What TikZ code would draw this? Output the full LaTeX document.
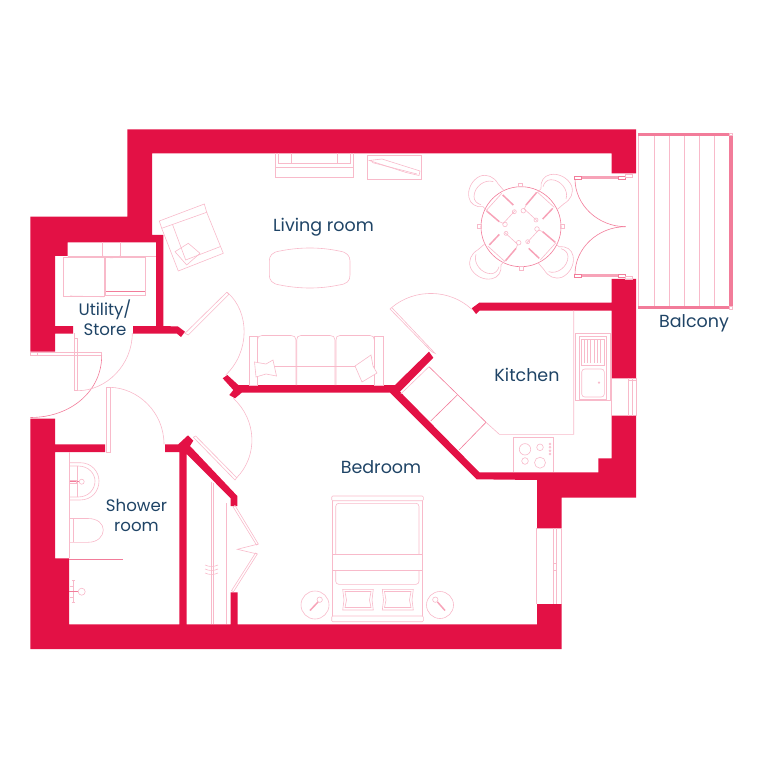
\documentclass[tikz,border=0pt]{standalone}
\usepackage{fontspec}
\setmainfont{Poppins}
\definecolor{wallred}{HTML}{E31145}
\definecolor{fitpink}{HTML}{F8BACA}
\definecolor{fitmid}{HTML}{F7A3B8}
\definecolor{fitred}{HTML}{F27C9A}
\definecolor{labelblue}{HTML}{1F4466}
\tikzset{
  wall/.style={fill=wallred,draw=none},
  fit/.style={draw=fitpink,line width=0.6pt},
  fitdark/.style={draw=fitred,line width=0.6pt},
  band/.style={fill=fitred,draw=none},
  roomlabel/.style={text=labelblue,font=\fontsize{17.5}{20}\selectfont,align=center,inner sep=0pt,anchor=base},
  tightlabel/.style={roomlabel,font=\fontsize{16.6}{19.8}\selectfont}
}
\newcommand{\diningchair}[1]{
\begin{scope}[shift={(521,226.7)},rotate=#1]
\draw[draw=fitmid,line width=1.5pt] (-18.3,-31.7)--(-7.7,-21.7) ;
\draw[draw=fitmid,line width=1.5pt] (-34.3,-15.7)--(-21.7,-5) ;
\draw[fit] (-19.3,-33.3)--(-34.3,-16.7) ;
\draw[fit] (-17.7,-3.3)--(-6,-16) ;
\draw[fit] (-21.7,-5)--(-17.7,-3.3) ;
\draw[fit] (-16,-2.3) circle (2.3) ;
\draw[fit] (-6.7,-15) circle (2) ;
\draw[fit] (-23,-43) .. controls (-27,-50) and (-34,-53) .. (-41,-50.5) .. controls (-49,-47) and (-54,-37) .. (-52,-29) .. controls (-51,-23) and (-45,-19) .. (-38,-20) ;
\draw[fit] (-27.7,-45) .. controls (-36,-48) and (-47,-40) .. (-47,-30) .. controls (-47,-26) and (-44,-23) .. (-40,-22) ;
\draw[fit] (-23,-43)--(-17,-36) ;
\draw[fit] (-38,-20)--(-33,-15) ;
\end{scope}
}
\begin{document}
\begin{tikzpicture}[x=1pt,y=-1pt]
\useasboundingbox (0,0) rectangle (768,767) ;

\fill[wall] (127.3,129.3)--(636,129.3)--(636,173.3)--(611.7,173.3)--(611.7,153.3)--(152,153.3)--(152,235)--(163.3,235)--(163.3,326)--(178,326.5)--(185,331.7)--(181,337)--(177,333.7)--(133,333.7)--(133,326)--(156,326)--(156,242.3)--(67.7,242.3)--(67.7,256)--(55,256)--(55,326)--(73,326)--(73,333.7)--(55,333.7)--(55,351.7)--(30.3,351.7)--(30.3,216.7)--(127.3,216.7)--cycle ;
\fill[wall] (30.3,418.7)--(55,418.7)--(55,444.3)--(105,444.3)--(105,452)--(55,452)--(55,558.3)--(69,558.3)--(69,624.3)--(179.3,624.3)--(179.3,452)--(165,452)--(165,444.3)--(178.3,444.3)--(188,435.3)--(193.3,440.7)--(190,446)--(237.3,496)--(237.3,506)--(230.7,506)--(230.7,498.3)--(186.7,454)--(186.7,624.3)--(230.7,624.3)--(230.7,592.3)--(237.7,592.3)--(237.7,624.3)--(537,624.3)--(537,604)--(561.7,604)--(561.7,649)--(30.3,649)--cycle ;
\fill[wall] (241.7,392.7)--(390,392.7)--(476.7,479.3)--(537,480)--(537,528.3)--(561.7,528.3)--(561.7,497.7)--(636,497.7)--(636,415.7)--(611.7,415.7)--(611.7,458.3)--(598.3,458.3)--(598.3,472.3)--(479.3,472.3)--(400,391.7)--(433.3,357.7)--(429,351.7)--(395,385)--(238.3,385)--(227.3,375)--(222.7,378.3)--(233.3,390)--(229.3,395)--(235,398.3)--cycle ;
\fill[wall] (611.7,279)--(636,279)--(636,378.3)--(611.7,378.3)--(611.7,310.7)--(479.3,310.7)--(476,314)--(471.7,308.3)--(479.3,302.7)--(611.7,302.7)--cycle ;

\fill[band] (638.3,133.3) rectangle (730,136) ;
\fill[band] (729.3,136) rectangle (732.7,307) ;
\fill[band] (638.3,306) rectangle (730,309) ;
\draw[fit] (638.3,136)--(638.3,306) ;
\draw[fit] (654,136)--(654,306) ;
\draw[fit] (669.3,136)--(669.3,306) ;
\draw[fit] (684.3,136)--(684.3,306) ;
\draw[fit] (699.3,136)--(699.3,306) ;
\draw[fit] (714.3,136)--(714.3,306) ;
\draw[fit] (729.7,133) rectangle (732.5,135.5) ;
\draw[fit] (729.7,306.5) rectangle (732.5,309) ;

\fill[fitmid] (581,176) rectangle (618.3,179) ;
\fill[fitmid] (581,274.3) rectangle (618.3,277.3) ;
\draw[fitdark] (574.3,176) rectangle (581,179) ;
\draw[fitdark] (618.3,176) rectangle (625.7,179) ;
\draw[fit] (625.7,174) rectangle (632.3,177) ;
\draw[fitdark] (574.3,274.3) rectangle (581,277.3) ;
\draw[fitdark] (618.3,274.3) rectangle (625.7,277.3) ;
\draw[fit] (625.7,276.3) rectangle (632.3,279) ;
\draw[fitdark] (575,179) .. controls (575,205) and (598,226.7) .. (625.7,226.7) ;
\draw[fitdark] (575,274.3) .. controls (575,248) and (598,226.7) .. (625.7,226.7) ;

\draw[fitdark] (521,226.7) circle (40) ;
\draw[fit] (518.3,183) rectangle (522.3,186.6) ;
\draw[fit] (477.3,224.7) rectangle (481,228.7) ;
\draw[fit] (560.7,224) rectangle (564.7,228) ;
\draw[fit] (519.3,266.7) rectangle (523.3,270.3) ;
\diningchair{0}
\diningchair{90}
\diningchair{180}
\diningchair{270}

\draw[fit] (159.3,221)--(204.3,204)--(206.7,212.3)--(161.7,228.3)--cycle ;
\draw[fit] (161.7,228.3)--(178.3,271)--(223.3,253.3)--(206.7,212.3) ;
\draw[fit] (172.7,225)--(185.7,260)--(220,246.7) ;
\draw[fit] (175,251.7)--(188.3,243.3)--(200,253.3)--(186.7,265)--cycle ;

\draw[fit] (275,153.3)--(275,177.3)--(353.3,177.3)--(353.3,153.3) ;
\draw[fit] (275,167)--(353.3,167) ;
\draw[fit] (278.3,153.3)--(278.3,163.3)--(350.7,163.3)--(350.7,153.3) ;
\draw[fit] (291.7,153.3)--(291.7,163.3) ;
\draw[fit] (337.3,153.3)--(337.3,163.3) ;
\draw[fit] (367.3,155.7) rectangle (421.7,179.3) ;
\draw[fit] (369.3,160.5)--(382,159)--(420,171)--(419,175.5)--(406,172.5)--cycle ;
\draw[fit] (372,162.5)--(417,174) ;

\draw[fit] (280,251) .. controls (300,247) and (320,247) .. (339,251) .. controls (347,252) and (350,256) .. (350,261)--(350,275) .. controls (350,281) and (347,284) .. (339,285) .. controls (320,289) and (300,289) .. (280,285) .. controls (272,284) and (269.3,280) .. (269.3,275)--(269.3,261) .. controls (269.3,256) and (272,252) .. (280,251)--cycle ;

\draw[fit] (249,336) rectangle (257.3,385) ;
\draw[fit] (374.3,336) rectangle (383.3,385) ;
\draw[fit] (257.3,385)--(257.3,340) .. controls (257.3,337) and (259,335.5) .. (262,335.5)--(291,335.5) .. controls (294,335.5) and (296,337) .. (296,340)--(296,385) ;
\draw[fit] (296.7,385)--(296.7,340) .. controls (296.7,337) and (298,335.5) .. (301,335.5)--(330,335.5) .. controls (333,335.5) and (335,337) .. (335,340)--(335,385) ;
\draw[fit] (336,385)--(336,340) .. controls (336,337) and (337,335.5) .. (340,335.5)--(370,335.5) .. controls (373,335.5) and (374.3,337) .. (374.3,340) ;
\draw[fit] (257.3,366.7)--(374.3,366.7) ;
\fill[white] (254.5,362)--(266,364)--(273,360)--(276.5,376)--(266,374)--(256,377)--cycle ;
\draw[fit] (254.5,362)--(266,364)--(273,360)--(276.5,376)--(266,374)--(256,377)--cycle ;
\fill[white] (355,366)--(371,355)--(373,366)--(377,373)--(362,382)--cycle ;
\draw[fit] (355,366)--(371,355)--(373,366)--(377,373)--(362,382)--cycle ;

\draw[fit] (67.7,256)--(156,256) ;
\draw[fit] (102.7,242.3)--(102.7,256) ;
\draw[fit] (120,242.3)--(120,256) ;
\draw[fit] (102.7,256) .. controls (107,258.5) and (116,258.5) .. (120,256) ;
\draw[fit] (63.3,257.3) rectangle (104,296) ;
\draw[fit] (105.3,257.3) rectangle (145,295.7) ;
\draw[fitdark] (106,291.7)--(144.5,291.7) ;
\draw[fit] (70,296)--(104,296.8) ;

\draw[fit] (429,366.7)--(400.7,394) ;
\draw[fitdark] (429,366.7)--(486,422.3) ;
\draw[fit] (486,422.3)--(499.3,434.3)--(573.7,434.3)--(573.7,310.7) ;
\draw[fitdark] (457.3,395)--(430.7,421) ;
\draw[fitdark] (486,422.3)--(459,450) ;
\draw[fit] (575.7,333.3) rectangle (610,400) ;
\draw[fit] (579,336.7) rectangle (606.7,399) ;
\draw[fit] (581,339)--(604.5,339)--(604.5,365)--(581,365)--cycle ;
\draw[fit] (584,339)--(584,363) ;
\draw[fit] (587.3,339)--(587.3,363) ;
\draw[fit] (590.7,339)--(590.7,363) ;
\draw[fit] (594,339)--(594,363) ;
\draw[fit] (597.3,339)--(597.3,363) ;
\draw[fit] (600.7,339)--(600.7,363) ;
\draw[fit,rounded corners=3pt] (581.7,369) rectangle (604.3,397) ;
\draw[fit] (599,382.7) circle (0.8) ;
\draw[fit] (513.3,472.3)--(513.3,437.7)--(553.3,437.7)--(553.3,472.3) ;
\draw[fit] (525,449.3) circle (5.7) ;
\draw[fit] (540,447.3) circle (3.3) ;
\draw[fit] (525,461) circle (3.3) ;
\draw[fit] (540,462.7) circle (5.5) ;
\draw[fit] (550,444) circle (1) ;
\draw[fit] (550,447.3) circle (1) ;
\draw[fit] (550,450.7) circle (1) ;
\draw[fit] (550,454) circle (1) ;

\draw[fit] (611.7,378.3)--(611.7,415.7) ;
\draw[fit] (628.3,378.3)--(628.3,415.7) ;
\draw[fit] (632.3,378.3)--(632.3,415.7) ;
\draw[fit] (636.5,378.3)--(636.5,415.7) ;
\draw[fit] (628.3,380)--(636.5,380) ;
\draw[fit] (536.7,528.3)--(536.7,604) ;
\draw[fit] (553.3,528.3)--(553.3,604) ;
\draw[fit] (556.7,528.3)--(556.7,604) ;
\draw[fit] (561.7,528.3)--(561.7,604) ;
\draw[fit] (553.3,563.3)--(556.7,563.3) ;
\draw[fit] (553.3,570)--(556.7,570) ;

\draw[fit] (30.3,352)--(101.7,352) ;
\draw[fit] (37,355.7)--(101.7,355.7)--(101.7,352) ;
\draw[fit] (30.3,352)--(30.3,355.7)--(37,355.7)--(37,352) ;
\draw[fitdark] (101.7,355.7) .. controls (101.7,391) and (71,417.5) .. (30.3,417.5) ;
\draw[fit] (74.3,333)--(74.3,390.7)--(77.7,390.7)--(77.7,338)--(74.3,338) ;
\draw[fit] (132.3,333) .. controls (132.3,365) and (106.3,390.7) .. (77.7,390.7) ;

\draw[fit] (185,333.3)--(226.7,292.3)--(229,294.3)--(188.3,335)--cycle ;
\draw[fit] (227.3,292.3) .. controls (250,312) and (250,352) .. (225.7,375) ;
\draw[fit] (106.7,452)--(106.7,387.3)--(110,387.3)--(110,452)--cycle ;
\draw[fit] (110,387.3) .. controls (138,388) and (164,412) .. (164,444.3) ;
\draw[fit] (193.3,437.3)--(235,480)--(236.7,477.7)--(195.7,436)--cycle ;
\draw[fit] (236.7,477.7) .. controls (258,456) and (257,420) .. (233.3,398.3) ;
\draw[fit] (431.7,351.7)--(390,309)--(391.7,307.5)--(435,353.3)--cycle ;
\draw[fit] (391.7,307.5) .. controls (415,288) and (450,289) .. (471.7,309.3) ;

\draw[fit] (69.3,452)--(69.3,558.3) ;
\draw[fit] (69.3,462.7)--(80,462.7) .. controls (92,462.7) and (99,472) .. (99,481) .. controls (99,491) and (92,500) .. (80,500)--(69.3,500) ;
\draw[fit] (69.3,466)--(78,466) .. controls (89,466) and (95,474) .. (95,481) .. controls (95,489) and (89,497) .. (78,497)--(69.3,497) ;
\draw[fit] (77.7,466)--(77.7,497) ;
\draw[fitdark] (69.5,481.5)--(79,481.5) ;
\draw[fit] (69.5,480)--(76,480)--(76,483)--(69.5,483) ;
\draw[fit] (81.7,481.7) circle (2.5) ;
\draw[fit] (69.3,518.5)--(88,518.5) .. controls (98,518.5) and (103.3,524) .. (103.3,530) .. controls (103.3,536) and (98,542.3) .. (88,542.3)--(69.3,542.3) ;
\draw[fit] (73.3,518.5)--(73.3,542.3) ;
\draw[fitdark] (69.3,559.3)--(122.7,559.3) ;
\draw[fit] (73.3,580.7)--(73.3,602.7) ;
\draw[fit] (71.5,580.7)--(75,580.7) ;
\draw[fit] (71.5,602.7)--(75,602.7) ;
\draw[fitdark] (69,591.7)--(78.2,591.7) ;
\draw[fit] (69.5,586)--(73,586) ;
\draw[fit] (69.5,597)--(73,597) ;
\draw[fit] (81.7,591.7) circle (3.5) ;

\draw[fit] (211.7,481.7)--(211.7,624.3) ;
\draw[fit] (213.3,483)--(213.3,624.3) ;
\draw[fit] (226.7,503.3)--(226.7,624.3) ;
\draw[fit] (205,565) .. controls (209,567) and (214,567) .. (218,565) ;
\draw[fit] (205,569) .. controls (209,571) and (214,571) .. (218,569) ;
\draw[fit] (205,573) .. controls (209,575) and (214,575) .. (218,573) ;
\draw[fit] (233,506.7)--(235,505.5)--(258.3,544)--(256.5,545)--cycle ;
\draw[fit] (258.3,544)--(237.3,549.3)--(257.3,554) ;
\draw[fit] (257.3,554)--(255.5,553)--(231.5,590.7)--(233.5,591.7)--cycle ;

\draw[fit,rounded corners=1pt] (331.7,496) rectangle (423.3,500.7) ;
\draw[fit] (332.7,500.7)--(332.7,616) ;
\draw[fit] (422.3,500.7)--(422.3,616) ;
\draw[fit,rounded corners=1pt] (331.7,616) rectangle (423.3,621.7) ;
\draw[fit,rounded corners=3pt] (335.7,503.3) rectangle (419,584.3) ;
\fill[white] (332.3,554.3) rectangle (422.7,570.7) ;
\draw[fit] (332.3,554.3) rectangle (422.7,570.7) ;
\draw[fit] (342.7,589.3)--(373.3,589.3)--(372,600)--(373.3,610)--(342.7,610)--(344,600)--cycle ;
\draw[fit] (345,591.5)--(371,591.5)--(369.5,600)--(371,607.5)--(345,607.5)--(346.5,600)--cycle ;
\draw[fit] (382.3,589.3)--(413.3,589.3)--(412,600)--(413.3,610)--(382.3,610)--(383.5,600)--cycle ;
\draw[fit] (384.5,591.5)--(411,591.5)--(409.5,600)--(411,607.5)--(384.5,607.5)--(386,600)--cycle ;

\draw[fit] (315,605) circle (14) ;
\draw[fit] (440,605) circle (13.5) ;
\draw[fit] (319.7,599.7) circle (2.7) ;
\draw[draw=fitmid,line width=1.5pt] (318,602)--(310,610.5) ;
\draw[fit] (435.3,599.7) circle (2.7) ;
\draw[draw=fitmid,line width=1.5pt] (437.5,602)--(445,610.5) ;

\node[roomlabel] (livingroom) at (323.5,232) {Living room} ;
\node[tightlabel] (utility) at (105,335.5) {Utility/\\Store} ;
\node[roomlabel] (kitchen) at (527,381.7) {Kitchen} ;
\node[roomlabel] (bedroom) at (381,473) {Bedroom} ;
\node[tightlabel] (shower) at (136.5,531) {Shower\\room} ;
\node[roomlabel] (balcony) at (694,327.5) {Balcony} ;
\end{tikzpicture}
\end{document}
